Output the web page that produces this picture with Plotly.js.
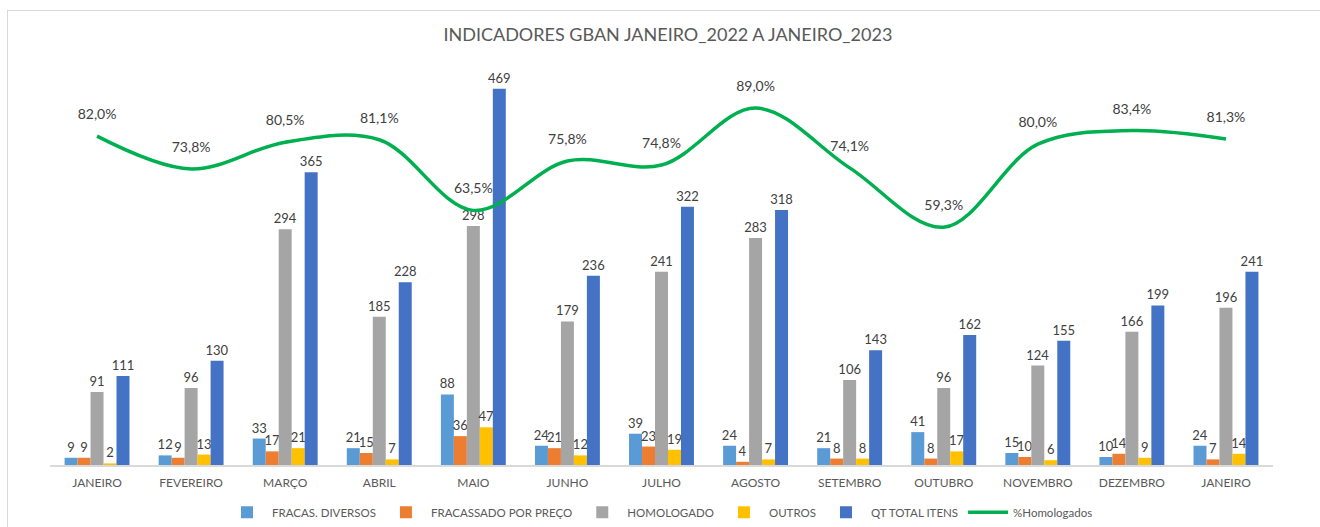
<!DOCTYPE html>
<html>
<head>
<meta charset="utf-8">
<script src="https://cdn.plot.ly/plotly-3.0.1.min.js"></script>
<style>
  html, body { margin: 0; padding: 0; background: #ffffff; }
  #wrap { position: relative; width: 1320px; height: 527px; overflow: hidden; }
  #frame { position: absolute; left: 7px; top: 10px; width: 1400px; height: 600px;
           border-left: 1px solid #D9D9D9; border-top: 1px solid #D9D9D9; }
  #chart { position: absolute; left: 0; top: 0; width: 1320px; height: 527px; }
</style>
</head>
<body>
<div id="wrap">
  <div id="frame"></div>
  <div id="chart"></div>
</div>
<script>
const months = ["JANEIRO","FEVEREIRO","MARÇO","ABRIL","MAIO","JUNHO","JULHO","AGOSTO","SETEMBRO","OUTUBRO","NOVEMBRO","DEZEMBRO","JANEIRO"];
const fracasDiversos = [9,12,33,21,88,24,39,24,21,41,15,10,24];
const fracassadoPreco = [9,9,17,15,36,21,23,4,8,8,10,14,7];
const homologado = [91,96,294,185,298,179,241,283,106,96,124,166,196];
const outros = [2,13,21,7,47,12,19,7,8,17,6,9,14];
const qtTotal = [111,130,365,228,469,236,322,318,143,162,155,199,241];
const pctHomologados = [82.0,73.8,80.5,81.1,63.5,75.8,74.8,89.0,74.1,59.3,80.0,83.4,81.3];

const xs = months.map((m, i) => i);
const labelFont = { family: "Lato, 'Open Sans', sans-serif", size: 13, color: "#404040" };
const pctFont = { family: "Lato, 'Open Sans', sans-serif", size: 14, color: "#404040" };

function barTrace(name, vals, color) {
  return {
    type: "bar", name: name, x: xs, y: vals,
    marker: { color: color },
    text: vals.map(String), textposition: "outside", cliponaxis: false,
    constraintext: "none",
    textfont: labelFont, hoverinfo: "name+y"
  };
}

const traces = [
  barTrace("FRACAS. DIVERSOS", fracasDiversos, "#5B9BD5"),
  barTrace("FRACASSADO POR PREÇO", fracassadoPreco, "#ED7D31"),
  barTrace("HOMOLOGADO", homologado, "#A5A5A5"),
  barTrace("OUTROS", outros, "#FFC000"),
  barTrace("QT TOTAL ITENS", qtTotal, "#4472C4"),
  {
    type: "scatter", name: "%Homologados", x: xs, y: pctHomologados, yaxis: "y2",
    mode: "lines+markers+text",
    line: { color: "#00B050", width: 3.5, shape: "spline", smoothing: 1 },
    marker: { size: 20, color: "rgba(0,0,0,0)" },
    text: pctHomologados.map(v => v.toFixed(1).replace(".", ",") + "%"),
    textposition: "top center", textfont: pctFont, cliponaxis: false
  }
];

const layout = {
  width: 1320, height: 527,
  paper_bgcolor: "rgba(0,0,0,0)", plot_bgcolor: "rgba(0,0,0,0)",
  margin: { l: 50, r: 47, t: 64, b: 62, autoexpand: false },
  title: { text: "INDICADORES GBAN JANEIRO_2022 A JANEIRO_2023",
           font: { family: "Lato, 'Open Sans', sans-serif", size: 18, color: "#595959" },
           x: 0.506, xanchor: "center", y: 0.935, yanchor: "middle" },
  barmode: "group", bargap: 0.31, bargroupgap: 0,
  xaxis: {
    tickmode: "array", tickvals: xs, ticktext: months,
    range: [-0.5, 12.5], showgrid: false, zeroline: false,
    showline: true, linecolor: "#D9D9D9", linewidth: 1.5,
    ticks: "", ticklabelstandoff: 6,
    tickfont: { family: "Lato, 'Open Sans', sans-serif", size: 12, color: "#595959" }
  },
  yaxis: { range: [0, 500], visible: false, showgrid: false, zeroline: false },
  yaxis2: { range: [0, 100], overlaying: "y", side: "right", visible: false, showgrid: false, zeroline: false },
  legend: {
    orientation: "h", x: 0.5, xanchor: "center", xref: "container",
    y: 0.028, yanchor: "middle", yref: "container",
    font: { family: "Lato, 'Open Sans', sans-serif", size: 11.5, color: "#595959" },
    itemwidth: 40, traceorder: "normal"
  },
  showlegend: true
};

Plotly.newPlot("chart", traces, layout, { displayModeBar: false, staticPlot: true });
</script>
</body>
</html>
